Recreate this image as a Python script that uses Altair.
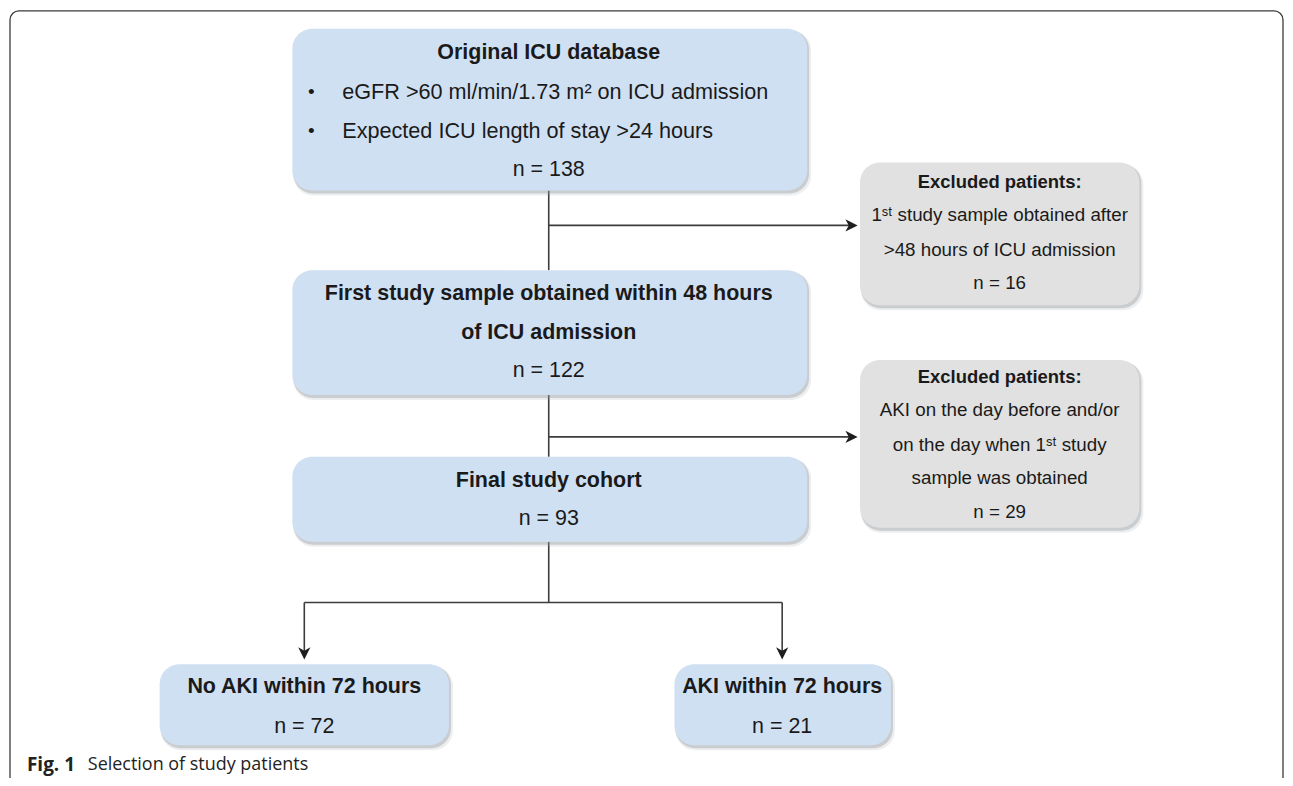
import altair as alt
import pandas as pd

# canvas (page pixels); chart starts at page offset (8, 8)
W, H = 1280, 770
OX, OY = 8, 8

# ---- boxes (layout in page pixels) ----
box_ids = ["orig", "excl1", "first", "excl2", "final", "noaki", "aki"]
box_kind = ["main", "excl", "main", "excl", "main", "main", "main"]
box_x1 = [293, 862, 293, 862, 293, 160, 676]
box_x2 = [809, 1142, 809, 1142, 809, 450, 893]
box_y1 = [28, 162, 270, 360, 457, 665, 665]
box_y2 = [190, 305, 395, 528, 542, 746, 746]

# ---- text content ----
main_bold_text = ["Original ICU database",
                  "First study sample obtained within 48 hours",
                  "of ICU admission",
                  "Final study cohort",
                  "No AKI within 72 hours",
                  "AKI within 72 hours"]
main_bold_x = [550, 550, 550, 550, 305, 784]
main_bold_y = [52, 294, 333, 481, 688, 688]

main_n_text = ["n = 138", "n = 122", "n = 93", "n = 72", "n = 21"]
main_n_x = [550, 550, 550, 305, 784]
main_n_y = [169, 371, 519, 728, 728]

bullet_text = ["eGFR >60 ml/min/1.73 m\u00b2 on ICU admission",
               "Expected ICU length of stay >24 hours"]
bullet_y = [91, 130]
bullet_dot_x = 312
bullet_text_x = 343

excl_title_text = ["Excluded patients:", "Excluded patients:"]
excl_title_y = [182, 377]
excl_x = 1002
excl_text = ["1\u02e2\u1d57 study sample obtained after",
             ">48 hours of ICU admission",
             "n = 16",
             "AKI on the day before and/or",
             "on the day when 1\u02e2\u1d57 study",
             "sample was obtained",
             "n = 29"]
excl_y = [215, 250, 283, 410, 445, 478, 512]

# ---- connectors ----
seg_x1 = [550, 550, 550, 550, 550, 305, 305, 784]
seg_y1 = [190, 225, 395, 437, 542, 603, 603, 603]
seg_x2 = [550, 853, 550, 853, 550, 784, 305, 784]
seg_y2 = [270, 225, 457, 437, 603, 603, 655, 655]

arrow_r_x = [853.5, 853.5]
arrow_r_y = [225, 437]
arrow_d_x = [305, 784]
arrow_d_y = [654, 654]

caption_bold = "Fig. 1"
caption_text = "Selection of study patients"

# ---------------------------------------------------------------
def xs():
    return alt.Scale(domain=[OX, OX + W], nice=False, zero=False)


def ys():
    return alt.Scale(domain=[OY, OY + H], nice=False, zero=False, reverse=True)


boxes = pd.DataFrame(dict(id=box_ids, kind=box_kind, x1=box_x1, x2=box_x2,
                          y1=box_y1, y2=box_y2))

frame_df = pd.DataFrame(dict(x1=[10], x2=[1286], y1=[10], y2=[830]))
frame = alt.Chart(frame_df).mark_rect(
    cornerRadius=9, fill="white", stroke="#3a3a3a", strokeWidth=1.3
).encode(
    x=alt.X("x1:Q", scale=xs(), axis=None), x2="x2:Q",
    y=alt.Y("y1:Q", scale=ys(), axis=None), y2="y2:Q",
)

shadow2 = alt.Chart(boxes).transform_calculate(
    sx1="datum.x1 + 1", sx2="datum.x2 + 4", sy1="datum.y1 + 2", sy2="datum.y2 + 5"
).mark_rect(cornerRadius=20, color="#9aa0a6", opacity=0.18).encode(
    x=alt.X("sx1:Q", scale=xs(), axis=None), x2="sx2:Q",
    y=alt.Y("sy1:Q", scale=ys(), axis=None), y2="sy2:Q",
)
shadow = alt.Chart(boxes).transform_calculate(
    sx1="datum.x1 + 1", sx2="datum.x2 + 2", sy1="datum.y1 + 1", sy2="datum.y2 + 3"
).mark_rect(cornerRadius=20, color="#8a9099", opacity=0.35).encode(
    x=alt.X("sx1:Q", scale=xs(), axis=None), x2="sx2:Q",
    y=alt.Y("sy1:Q", scale=ys(), axis=None), y2="sy2:Q",
)

rects = alt.Chart(boxes).mark_rect(cornerRadius=20).encode(
    x=alt.X("x1:Q", scale=xs(), axis=None), x2="x2:Q",
    y=alt.Y("y1:Q", scale=ys(), axis=None), y2="y2:Q",
    color=alt.Color("kind:N", scale=alt.Scale(domain=["main", "excl"],
                                              range=["#d0e0f3", "#e1e1e1"]),
                    legend=None),
)

segs = pd.DataFrame(dict(x1=seg_x1, y1=seg_y1, x2=seg_x2, y2=seg_y2))
lines = alt.Chart(segs).mark_rule(color="#3c3c3c", strokeWidth=1.6).encode(
    x=alt.X("x1:Q", scale=xs(), axis=None), x2="x2:Q",
    y=alt.Y("y1:Q", scale=ys(), axis=None), y2="y2:Q",
)

arrow_right_path = "M -1 -1 L 1 0 L -1 1 L -0.45 0 Z"
arrow_down_path = "M -1 -1 L 0 1 L 1 -1 L 0 -0.45 Z"
ar = alt.Chart(pd.DataFrame(dict(x=arrow_r_x, y=arrow_r_y))).mark_point(
    shape=arrow_right_path, filled=True, size=150, color="#1e1e1e", opacity=1
).encode(x=alt.X("x:Q", scale=xs(), axis=None), y=alt.Y("y:Q", scale=ys(), axis=None))
ad = alt.Chart(pd.DataFrame(dict(x=arrow_d_x, y=arrow_d_y))).mark_point(
    shape=arrow_down_path, filled=True, size=150, color="#1e1e1e", opacity=1
).encode(x=alt.X("x:Q", scale=xs(), axis=None), y=alt.Y("y:Q", scale=ys(), axis=None))


def text_layer(texts, xs_, ys_, size, weight, align, font="Liberation Sans", color="#1a1a1a"):
    df = pd.DataFrame(dict(t=texts, x=xs_, y=ys_))
    return alt.Chart(df).mark_text(
        font=font, fontSize=size, fontWeight=weight, align=align,
        baseline="middle", color=color
    ).encode(
        x=alt.X("x:Q", scale=xs(), axis=None),
        y=alt.Y("y:Q", scale=ys(), axis=None),
        text="t:N",
    )


t_main_bold = text_layer(main_bold_text, main_bold_x, main_bold_y, 21.5, "bold", "center")
t_main_n = text_layer(main_n_text, main_n_x, main_n_y, 21.5, "normal", "center")
t_dots = text_layer(["\u2022"] * len(bullet_text), [bullet_dot_x] * len(bullet_text),
                    bullet_y, 19, "normal", "center")
t_bullets = text_layer(bullet_text, [bullet_text_x] * len(bullet_text), bullet_y,
                       21.7, "normal", "left")
t_excl_title = text_layer(excl_title_text, [excl_x] * 2, excl_title_y, 18.5, "bold", "center")
t_excl = text_layer(excl_text, [excl_x] * len(excl_text), excl_y, 18.8, "normal", "center")
t_cap_b = text_layer([caption_bold], [27], [766], 19, "bold", "left", font="Open Sans",
                     color="#222222")
t_cap = text_layer([caption_text], [88], [766], 18, "normal", "left", font="Open Sans",
                   color="#222222")

chart = alt.layer(
    frame, lines, ar, ad, shadow2, shadow, rects,
    t_main_bold, t_main_n, t_dots, t_bullets, t_excl_title, t_excl, t_cap_b, t_cap
).properties(
    width=W, height=H, padding=0, autosize=alt.AutoSizeParams(type="none")
).configure_view(stroke=None)

chart.save("out.html", embed_options={"renderer": "svg", "actions": False})
